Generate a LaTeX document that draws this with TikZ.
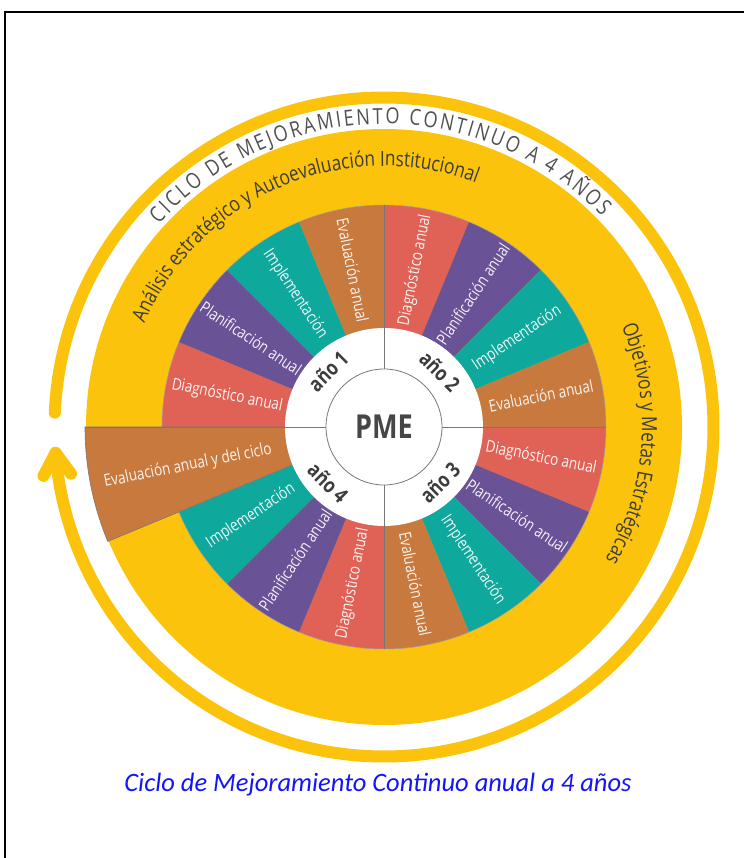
\documentclass[tikz,border=0pt]{standalone}
\usepackage{fontspec}
\setmainfont{Open Sans}
\newfontfamily\condf[FakeStretch=0.82]{Open Sans}
\newfontfamily\capf{Carlito}
\usetikzlibrary{decorations.text}
\definecolor{pmeY}{RGB}{251,195,12}
\definecolor{diagC}{RGB}{224,98,86}
\definecolor{planC}{RGB}{106,82,150}
\definecolor{implC}{RGB}{14,168,157}
\definecolor{evalC}{RGB}{200,121,61}
\definecolor{darkT}{RGB}{60,60,60}
\definecolor{ringT}{RGB}{80,80,80}
\definecolor{capB}{RGB}{20,20,250}
\definecolor{lineG}{RGB}{120,120,120}
\begin{document}
\begin{tikzpicture}[x=1pt,y=1pt,
  seclabel/.style={text=white, text opacity=0.92, font=\condf\fontsize{16.5}{16.5}\selectfont, inner sep=0pt},
  yearlabel/.style={text=darkT, font=\condf\bfseries\fontsize{21}{21}\selectfont, inner sep=0pt},
  divline/.style={draw=lineG, line width=0.8pt},
  ringarrow/.style={draw=pmeY, line width=12pt, line cap=round, line join=round}
]
\useasboundingbox (-384,-431) rectangle (360,427);
% frame
\draw[line width=2pt] (-379,-431) -- (-379,415) -- (360,415);
% arrow ring
\draw[ringarrow] (177.5:329.5) arc[start angle=177.5, end angle=-175.5, radius=329.5];
\coordinate (tipV) at (-175.5:329.5);
\draw[ringarrow] ([shift={(242.5:26)}]tipV) -- (tipV) -- ([shift={(306.5:26)}]tipV);
% yellow disk
\fill[pmeY] (0,0) circle (298);
% sectors
\foreach \i/\c/\r/\lr/\t in {
  0/diagC/222/160/Diagnóstico anual,
  1/planC/222/160/Planificación anual,
  2/implC/222/160/Implementación,
  3/evalC/222/160/Evaluación anual,
  4/diagC/222/160/Diagnóstico anual,
  5/planC/222/160/Planificación anual,
  6/implC/222/160/Implementación,
  7/evalC/222/160/Evaluación anual,
  8/diagC/222/160/Diagnóstico anual,
  9/planC/222/160/Planificación anual,
  10/implC/222/160/Implementación,
  11/evalC/299/200/Evaluación anual y del ciclo,
  12/diagC/222/160/Diagnóstico anual,
  13/planC/222/160/Planificación anual,
  14/implC/222/160/Implementación,
  15/evalC/222/160/Evaluación anual}{
  \pgfmathsetmacro\aa{90-22.5*\i}
  \pgfmathsetmacro\bb{\aa-22.5}
  \pgfmathsetmacro\mm{\aa-11.25}
  \pgfmathsetmacro\rot{\i<8 ? \mm : \mm+180}
  \fill[\c] (0,0) -- (\aa:\r) arc[start angle=\aa, end angle=\bb, radius=\r] -- cycle;
  \node[seclabel, rotate=\rot] (s\i) at (\mm:\lr) {\t};
}
\draw[lineG!70, line width=0.5pt] (180:222) arc[start angle=180, end angle=-157.5, radius=222];
\draw[lineG, line width=0.6pt] (180:99) -- (180:299) arc[start angle=180, end angle=202.5, radius=299] -- (202.5:99);
% centre
\fill[white] (0,0) circle (99);
\foreach \a in {0,90,270} \draw[divline] (\a:58) -- (\a:222);
\draw[divline] (180:58) -- (180:299);
\draw[lineG, line width=0.8pt, fill=white] (0,0) circle (58);
\node[font=\condf\bfseries\fontsize{33}{33}\selectfont, text=darkT!95] (pme) at (0,0) {PME};
\node[yearlabel, rotate=45] (y1) at (135:79) {año 1};
\node[yearlabel, rotate=-45] (y2) at (45:79) {año 2};
\node[yearlabel, rotate=45] (y3) at (-45:79) {año 3};
\node[yearlabel, rotate=-45] (y4) at (-135:79) {año 4};
% curved texts
\path[decorate, decoration={text along path, text={|\condf\fontsize{22}{22}\selectfont|CICLO DE MEJORAMIENTO CONTINUO A 4 AÑOS}, text align={fit to path}, text color=ringT}] (138:303) arc[start angle=138, end angle=44, radius=303];
\path[decorate, decoration={text along path, text={|\condf\fontsize{21}{21}\selectfont|Análisis estratégico y Autoevaluación Institucional}, text align=center, text color=darkT}] (170:261) arc[start angle=170, end angle=56, radius=261];
\path[decorate, decoration={text along path, text={|\condf\fontsize{21}{21}\selectfont|Objetivos y Metas Estratégicas}, text align=center, text color=darkT}] (30:258) arc[start angle=30, end angle=-38, radius=258];
% caption
\node[font=\capf\itshape\fontsize{26.5}{26.5}\selectfont, text=capB] (cap) at (-6,-358) {Ciclo de Mejoramiento Continuo anual a 4 años};
\end{tikzpicture}
\end{document}
